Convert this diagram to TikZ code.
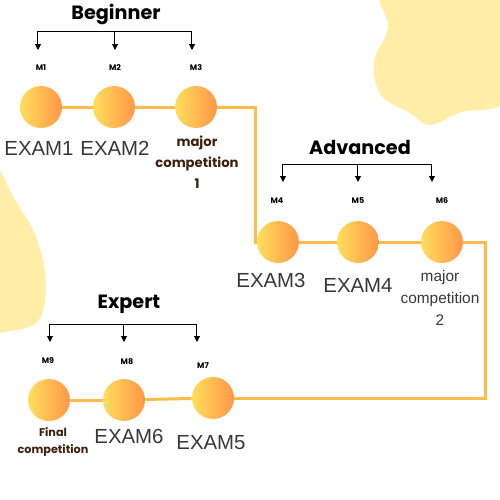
\documentclass[tikz,border=0pt]{standalone}
\usepackage{fontspec}
\setmainfont{Liberation Sans}
\newfontfamily\popfont{Poppins}
\usetikzlibrary{positioning,arrows.meta}
\definecolor{blobyellow}{RGB}{255,237,168}
\definecolor{dotyellow}{RGB}{255,222,92}
\definecolor{dotorange}{RGB}{255,150,72}
\definecolor{pathorange}{RGB}{255,188,74}
\definecolor{labelbrown}{RGB}{62,30,12}
\tikzset{
  dot/.style={circle,minimum size=21pt,inner sep=0pt,
    left color=dotyellow,right color=dotorange},
  track/.style={draw=pathorange,line width=1.5pt,line join=miter},
  examlabel/.style={font=\fontsize{10.2}{12}\selectfont,text=black!78},
  levellabel/.style={font=\popfont\bfseries\fontsize{9.6}{11}\selectfont},
  mlabel/.style={font=\popfont\bfseries\fontsize{4}{5}\selectfont},
  majorlabel/.style={align=center,text=labelbrown,
    font=\popfont\bfseries\fontsize{6.6}{10.4}\selectfont},
  plainmajor/.style={align=center,text=black!78,
    font=\fontsize{7.7}{11}\selectfont},
  bracket/.style={line width=.5pt},
}
\begin{document}
\begin{tikzpicture}[x=.5pt,y=-.5pt,>={Triangle[length=3pt,width=3pt]}]
  \useasboundingbox (0,0) rectangle (500,500);
  \clip (0,0) rectangle (500,500);
  % background blobs
  \fill[blobyellow] plot[smooth cycle,tension=.6] coordinates
    {(386,-12) (388,28) (374,62) (381,95) (410,113) (430,125)
     (462,112) (502,104) (514,60) (503,16) (494,-12)};
  \fill[blobyellow] plot[smooth,tension=.6] coordinates
    {(-10,160) (0,170) (15,200) (33,230) (44,265) (45,300) (35,324) (0,333) (-10,334)};
  % milestones
  \node[dot] (exam1) at (41,107) {};
  \node[dot] (exam2) at (114,107) {};
  \node[dot] (major1) at (196,107) {};
  \node[dot] (exam3) at (278,242) {};
  \node[dot] (exam4) at (358,242) {};
  \node[dot] (major2) at (442,242) {};
  \node[dot] (exam5) at (213,398) {};
  \node[dot] (exam6) at (124,400) {};
  \node[dot] (final) at (49,400) {};
  \coordinate (bendA) at (256,107);
  \coordinate (bendB) at (256,242);
  \coordinate (bendC) at (486,242);
  \coordinate (bendD) at (486,398);
  % track
  \draw[track] (exam1) -- (exam2);
  \draw[track] (exam2) -- (major1);
  \draw[track] (major1) -- (bendA) -- (bendB) -- (exam3);
  \draw[track] (exam3) -- (exam4);
  \draw[track] (exam4) -- (major2);
  \draw[track] (major2) -- (bendC) -- (bendD) -- (exam5);
  \draw[track] (exam5) -- (exam6);
  \draw[track] (exam6) -- (final);
  % labels under the dots
  \node[examlabel] (lexam1) at (39,148) {EXAM1};
  \node[examlabel] (lexam2) at (115,148) {EXAM2};
  \node[majorlabel] (lmajor1) at (197,162) {major\\competition\\1};
  \node[examlabel] (lexam3) at (271,280) {EXAM3};
  \node[examlabel] (lexam4) at (358,285) {EXAM4};
  \node[plainmajor] (lmajor2) at (440,298) {major\\competition\\2};
  \node[majorlabel,font=\popfont\bfseries\fontsize{5.6}{8.5}\selectfont]
    (lfinal) at (53,442) {Final\\competition};
  \node[examlabel] (lexam6) at (129,436) {EXAM6};
  \node[examlabel] (lexam5) at (211,443) {EXAM5};
  % month labels
  \node[mlabel] (m1) at (41,68) {M1};
  \node[mlabel] (m2) at (115,68) {M2};
  \node[mlabel] (m3) at (196,68) {M3};
  \node[mlabel] (m4) at (277,201) {M4};
  \node[mlabel] (m5) at (358,201) {M5};
  \node[mlabel] (m6) at (442,201) {M6};
  \node[mlabel] (m9) at (48,361) {M9};
  \node[mlabel] (m8) at (127,362) {M8};
  \node[mlabel] (m7) at (203,366) {M7};
  % level titles
  \node[levellabel] (beginner) at (116,14) {Beginner};
  \node[levellabel] (advanced) at (360,147) {Advanced};
  \node[levellabel] (expert) at (129,304) {Expert};
  % brackets
  \foreach \lvl/\y/\yy/\xa/\xb/\xc in
      {beg/31/50/38/115/192,adv/164/182/283/358/432,exp/324/342/50/124/197}{
    \coordinate (\lvl L) at (\xa,\y);
    \coordinate (\lvl M) at (\xb,\y);
    \coordinate (\lvl R) at (\xc,\y);
    \coordinate (\lvl Lend) at (\xa,\yy);
    \coordinate (\lvl Mend) at (\xb,\yy);
    \coordinate (\lvl Rend) at (\xc,\yy);
    \draw[bracket] (\lvl L) -- (\lvl R);
    \foreach \side in {L,M,R}
      \draw[bracket,->] (\lvl\side) -- (\lvl\side end);
  }
\end{tikzpicture}
\end{document}
